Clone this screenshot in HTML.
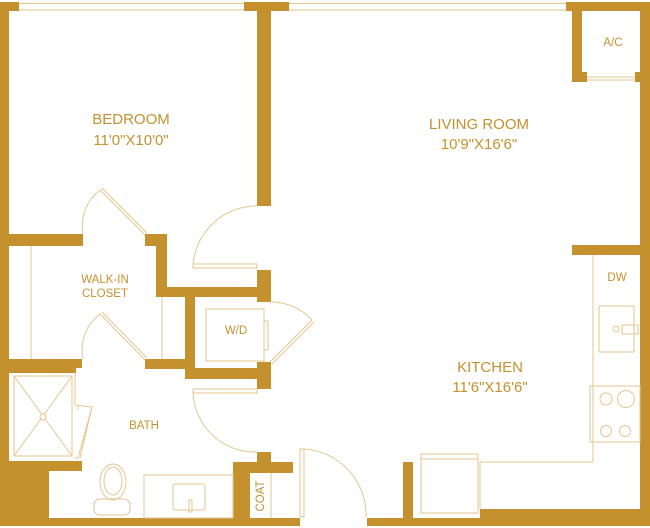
<!DOCTYPE html>
<html><head><style>
html,body{margin:0;padding:0;background:#fff;}
svg{display:block;}
text{font-family:"Liberation Sans",sans-serif;fill:#c4912e;text-anchor:middle;}
</style></head><body>
<svg width="650" height="528" viewBox="0 0 650 528" xmlns="http://www.w3.org/2000/svg">
<g fill="#c4912e">
<!-- outer -->
<rect x="0" y="2" width="9" height="524"/>
<rect x="0" y="2" width="19" height="9"/>
<rect x="244" y="2" width="45" height="9"/>
<rect x="257" y="2" width="14" height="204"/>
<rect x="566" y="2" width="84" height="9"/>
<rect x="640" y="2" width="10" height="524"/>
<rect x="572" y="2" width="10" height="80"/>
<rect x="572" y="72" width="15" height="10"/>
<rect x="635" y="72" width="5" height="10"/>
<rect x="572" y="245" width="78" height="10"/>
<rect x="480" y="509" width="170" height="17"/>
<rect x="367" y="518" width="113" height="8"/>
<rect x="403" y="462" width="10" height="56"/>
<rect x="0" y="518" width="300" height="8"/>
<rect x="0" y="461" width="49" height="65"/>
<rect x="0" y="461" width="82" height="10"/>
<rect x="0" y="359" width="82" height="9"/>
<rect x="0" y="368" width="76" height="5"/>
<rect x="0" y="234" width="83" height="12"/>
<rect x="145" y="234" width="22" height="12"/>
<rect x="156" y="234" width="11" height="63"/>
<rect x="156" y="287" width="115" height="10"/>
<rect x="257" y="270" width="14" height="32"/>
<rect x="145" y="359" width="41" height="10"/>
<rect x="185" y="287" width="10" height="91"/>
<rect x="185" y="368" width="86" height="11"/>
<rect x="257" y="362" width="14" height="27"/>
<rect x="257" y="452" width="14" height="12"/>
<rect x="233" y="462" width="60" height="11"/>
<rect x="233" y="462" width="17" height="56"/>
</g>
<g fill="none" stroke="#e3c68e" stroke-width="1">
<!-- windows -->
<line x1="19" y1="3.5" x2="244" y2="3.5"/><line x1="19" y1="10" x2="244" y2="10"/>
<line x1="289" y1="3.5" x2="566" y2="3.5"/><line x1="289" y1="10" x2="566" y2="10"/>
<line x1="587" y1="77" x2="635" y2="77"/><line x1="587" y1="80" x2="635" y2="80"/>
<!-- kitchen -->
<line x1="593" y1="255" x2="593" y2="462"/>
<line x1="480" y1="462" x2="593" y2="462"/>
<line x1="480" y1="462" x2="480" y2="509"/>
<rect x="599" y="306" width="35" height="46"/>
<circle cx="616" cy="329" r="3"/>
<rect x="622" y="325" width="16" height="9"/>
<rect x="590" y="386" width="50" height="56"/>
<circle cx="606" cy="399" r="6"/><circle cx="626" cy="399" r="8.5"/>
<circle cx="606" cy="431" r="5.5"/><circle cx="625" cy="431" r="5.5"/>
<rect x="421" y="454" width="57" height="59"/>
<line x1="421" y1="459" x2="478" y2="459"/>
<!-- entry door -->
<rect x="300" y="449" width="4" height="68"/>
<path d="M304 449 A66 66 0 0 1 366 517"/>
<!-- hallway door -->
<rect x="193" y="264" width="64" height="4"/>
<path d="M257 206 A64 64 0 0 0 193 264"/>
<!-- bedroom door to closet -->
<path d="M83 234 A45 45 0 0 1 100 190"/>
<path d="M100 190 L145 235 M102 188 L147 233"/>
<!-- closet -->
<line x1="31" y1="246" x2="31" y2="359"/>
<line x1="162" y1="297" x2="162" y2="359"/>
<path d="M83 359 A45 45 0 0 1 100 314"/>
<path d="M100 314 L145 360 M102 312 L147 358"/>
<!-- W/D -->
<rect x="206" y="309" width="58" height="52"/>
<rect x="264" y="321" width="4" height="29"/>
<path d="M270 302 A55 55 0 0 1 312 320"/>
<path d="M270 362 L312 320 M272 364 L314 322"/>
<!-- bath door -->
<rect x="193" y="389" width="64" height="4"/>
<path d="M193 393 A62 62 0 0 0 257 452"/>
<!-- shower -->
<rect x="14" y="376" width="58" height="80"/>
<path d="M14 376 L72 456 M72 376 L14 456"/>
<circle cx="43" cy="417" r="3" fill="#fff"/>
<path d="M75 373 L75 405 L92 407 L78 458 L75 458 M78 405 L78 410"/>
<path d="M92 407 L80 458"/>
<!-- toilet -->
<ellipse cx="113" cy="482" rx="13" ry="18"/>
<ellipse cx="113" cy="481" rx="9" ry="14"/>
<rect x="94" y="499" width="36" height="16" rx="6"/>
<!-- vanity -->
<rect x="144" y="475" width="89" height="43"/>
<rect x="173" y="484" width="32" height="26" rx="2"/>
<rect x="189" y="500" width="3" height="12"/>
<line x1="271" y1="473" x2="271" y2="518"/>
</g>
<text x="131" y="124" font-size="15">BEDROOM</text>
<text x="131" y="145" font-size="15">11'0"X10'0"</text>
<text x="479" y="129" font-size="15">LIVING ROOM</text>
<text x="479" y="149" font-size="15">10'9"X16'6"</text>
<text x="490" y="372" font-size="15">KITCHEN</text>
<text x="490" y="392" font-size="15">11'6"X16'6"</text>
<text x="105" y="283" font-size="11.5">WALK-IN</text>
<text x="105" y="297" font-size="11.5">CLOSET</text>
<text x="144" y="429" font-size="11.5">BATH</text>
<text x="236" y="334" font-size="11.5">W/D</text>
<text x="617" y="281" font-size="11.5">DW</text>
<text x="613" y="46" font-size="11.5">A/C</text>
<text x="0" y="0" font-size="11.5" transform="translate(264 496) rotate(-90)">COAT</text>
</svg>
</body></html>
